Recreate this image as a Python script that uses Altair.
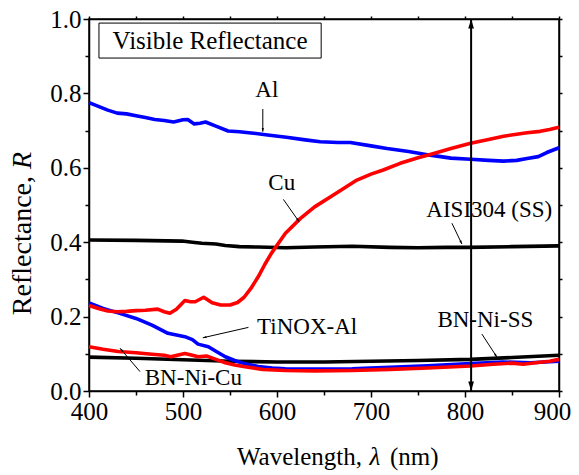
import math
import altair as alt
import pandas as pd

# ---------------- data ----------------
al_nm = [400, 410, 420, 430, 440, 450, 460, 470, 480, 490, 500, 505, 512, 518, 524, 535, 548, 560, 575, 590,
         610, 630, 646, 665, 678, 700, 717, 740, 763, 785, 806, 825, 841, 855, 866, 878, 887, 900]
al_r = [0.775, 0.765, 0.755, 0.747, 0.745, 0.740, 0.735, 0.730, 0.727, 0.723, 0.729, 0.730, 0.718, 0.720,
        0.723, 0.712, 0.699, 0.697, 0.693, 0.688, 0.682, 0.675, 0.670, 0.668, 0.668, 0.659, 0.652, 0.644,
        0.634, 0.626, 0.623, 0.620, 0.618, 0.620, 0.625, 0.630, 0.641, 0.654]

cu_nm = [400, 410, 420, 430, 440, 450, 460, 473, 480, 486, 493, 502, 508, 513, 522, 531, 540, 550, 558, 565,
         572, 580, 587, 594, 600, 609, 625, 640, 660, 685, 700, 713, 731, 750, 763, 785, 806, 825, 841, 855,
         866, 880, 890, 900]
cu_r = [0.230, 0.222, 0.215, 0.213, 0.214, 0.216, 0.217, 0.220, 0.213, 0.209, 0.220, 0.243, 0.240, 0.240,
        0.252, 0.237, 0.231, 0.231, 0.238, 0.252, 0.275, 0.307, 0.340, 0.370, 0.392, 0.424, 0.464, 0.495,
        0.527, 0.567, 0.583, 0.594, 0.612, 0.627, 0.636, 0.652, 0.666, 0.676, 0.685, 0.690, 0.694, 0.698,
        0.703, 0.709]

ss_nm = [400, 450, 499, 510, 520, 535, 545, 560, 580, 609, 640, 680, 720, 750, 780, 803, 850, 900]
ss_r = [0.406, 0.405, 0.403, 0.400, 0.397, 0.395, 0.391, 0.388, 0.387, 0.385, 0.387, 0.389, 0.386, 0.385,
        0.386, 0.386, 0.388, 0.390]

tinox_nm = [400, 415, 431, 450, 467, 484, 502, 510, 516, 527, 535, 545, 555, 566, 580, 595, 609, 640, 680,
            720, 760, 806, 840, 870, 900]
tinox_r = [0.237, 0.222, 0.210, 0.195, 0.177, 0.155, 0.146, 0.138, 0.126, 0.119, 0.107, 0.092, 0.082, 0.073,
           0.066, 0.062, 0.060, 0.059, 0.060, 0.064, 0.068, 0.074, 0.078, 0.076, 0.080]

bncu_nm = [400, 415, 431, 450, 467, 480, 487, 495, 502, 510, 516, 525, 535, 545, 555, 566, 585, 609, 640, 680,
           720, 760, 806, 830, 850, 862, 875, 890, 900]
bncu_r = [0.119, 0.112, 0.106, 0.103, 0.099, 0.096, 0.092, 0.097, 0.101, 0.096, 0.092, 0.094, 0.085, 0.076,
          0.070, 0.065, 0.058, 0.055, 0.054, 0.055, 0.058, 0.062, 0.067, 0.072, 0.075, 0.072, 0.076, 0.080,
          0.085]

bnss_nm = [400, 450, 500, 550, 600, 650, 700, 750, 806, 850, 900]
bnss_r = [0.091, 0.088, 0.084, 0.080, 0.078, 0.078, 0.080, 0.082, 0.085, 0.090, 0.096]

# label texts and their anchor positions (data coordinates)
label_text = ["Al", "Cu", "AISI304 (SS)", "TiNOX-Al", "BN-Ni-SS", "BN-Ni-Cu"]
label_x = [589.2, 605.1, 825.8, 632.1, 821.6, 511.0]
label_y = [0.809, 0.558, 0.487, 0.173, 0.191, 0.034]

# annotation arrows: start -> head
arrow_x1 = [584.9, 606.8, 786.1, 569.6, 818.0, 454.3]
arrow_y1 = [0.758, 0.515, 0.451, 0.171, 0.153, 0.052]
arrow_x2 = [584.9, 623.5, 796.7, 521.0, 834.0, 433.0]
arrow_y2 = [0.697, 0.455, 0.395, 0.143, 0.091, 0.115]

box_title = ["Visible Reflectance"]
box_x = [410.6, 647.0]
box_y = [0.895, 0.989]
box_text_x = [528.8]
box_text_y = [0.941]

marker_nm = [806.5]  # vertical double arrow

x_title_parts = ["Wavelength,", "\u03bb", "(nm)"]
y_title_parts = ["Reflectance,", "R"]

# ---------------- layout ----------------
W, H = 470, 372
X0, X1 = 400, 900
Y0, Y1 = 0.0, 1.0
FONT = "Liberation Serif"

xs = alt.Scale(domain=[X0, X1], nice=False, zero=False)
ys = alt.Scale(domain=[Y0, Y1], nice=False, zero=False)


def ang(x1, y1, x2, y2):
    dx = (x2 - x1) * W / (X1 - X0)
    dy = -(y2 - y1) * H / (Y1 - Y0)
    return math.degrees(math.atan2(dx, -dy)) % 360


ARROW = "M0,0L-0.6,2L0.6,2Z"

x_axis = alt.Axis(
    values=list(range(400, 901, 50)), format="d",
    labelExpr="datum.value % 100 === 0 ? datum.label : ''",
    tickSize={"condition": {"test": "datum.value % 100 === 0", "value": 6}, "value": 4},
    labelOffset={"condition": {"test": "datum.value === 900", "value": -7}, "value": 0},
    title=None, grid=False, labelFont=FONT, labelFontSize=25, labelColor="black",
    domainColor="black", tickColor="black", domainWidth=1.5, tickWidth=1.5,
    labelPadding=2, labelFlush=False, labelOverlap=False,
)
y_axis = alt.Axis(
    values=[round(i * 0.1, 1) for i in range(11)], format=".1f",
    labelExpr="round(datum.value * 10) % 2 === 0 ? datum.label : ''",
    tickSize={"condition": {"test": "round(datum.value * 10) % 2 === 0", "value": 6}, "value": 4},
    title=None, grid=False, labelFont=FONT, labelFontSize=25, labelColor="black",
    domainColor="black", tickColor="black", domainWidth=1.5, tickWidth=1.5,
    labelPadding=2, labelFlush=False, labelOverlap=False,
)

series = [
    ("AISI304", ss_nm, ss_r, "black"),
    ("BN-Ni-SS", bnss_nm, bnss_r, "black"),
    ("TiNOX-Al", tinox_nm, tinox_r, "#0000ff"),
    ("Al", al_nm, al_r, "#0000ff"),
    ("Cu", cu_nm, cu_r, "#ff0000"),
    ("BN-Ni-Cu", bncu_nm, bncu_r, "#ff0000"),
]

layers = []
first = True
for name, nm, r, col in series:
    df = pd.DataFrame({"nm": nm, "R": r})
    layers.append(
        alt.Chart(df).mark_line(color=col, strokeWidth=3.6, strokeJoin="round").encode(
            x=alt.X("nm:Q", scale=xs, axis=x_axis if first else None),
            y=alt.Y("R:Q", scale=ys, axis=y_axis if first else None),
        )
    )
    first = False

# mirror axes (top / right)
mirror_df = pd.DataFrame({"nm": ss_nm, "R": ss_r})
mirror = alt.Chart(mirror_df).mark_line(opacity=0).encode(
    x=alt.X("nm:Q", scale=xs, axis=alt.Axis(orient="top", values=list(range(400, 901, 50)), labels=False,
                                            title=None, grid=False, tickSize=3, domainColor="black",
                                            tickColor="black", domainWidth=1.5, tickWidth=1.5)),
    y=alt.Y("R:Q", scale=ys, axis=alt.Axis(orient="right", values=[round(i * 0.1, 1) for i in range(11)],
                                           labels=False, title=None, grid=False, tickSize=3,
                                           domainColor="black", tickColor="black", domainWidth=1.5,
                                           tickWidth=1.5)),
)

# vertical double arrow
vdf = pd.DataFrame({"x": marker_nm, "y": [Y0], "y2": [Y1]})
vrule = alt.Chart(vdf).mark_rule(color="black", strokeWidth=2).encode(
    x=alt.X("x:Q", scale=xs, axis=None), y=alt.Y("y:Q", scale=ys, axis=None), y2="y2:Q")
vheads_df = pd.DataFrame({"x": marker_nm * 2, "y": [Y1, Y0], "a": [0, 180]})
vheads = alt.Chart(vheads_df).mark_point(shape=ARROW, filled=True, color="black", size=90, opacity=1).encode(
    x=alt.X("x:Q", scale=xs, axis=None), y=alt.Y("y:Q", scale=ys, axis=None), angle=alt.Angle("a:Q", scale=None))

# annotation arrows
adf = pd.DataFrame({"x1": arrow_x1, "y1": arrow_y1, "x2": arrow_x2, "y2": arrow_y2})
adf["a"] = [ang(a, b, c, d) for a, b, c, d in zip(arrow_x1, arrow_y1, arrow_x2, arrow_y2)]
arules = alt.Chart(adf).mark_rule(color="black", strokeWidth=1).encode(
    x=alt.X("x1:Q", scale=xs, axis=None), y=alt.Y("y1:Q", scale=ys, axis=None), x2="x2:Q", y2="y2:Q")
aheads = alt.Chart(adf).mark_point(shape=ARROW, filled=True, color="black", size=14, opacity=1).encode(
    x=alt.X("x2:Q", scale=xs, axis=None), y=alt.Y("y2:Q", scale=ys, axis=None), angle=alt.Angle("a:Q", scale=None))

# labels
ldf = pd.DataFrame({"x": label_x, "y": label_y, "t": label_text})
labels = alt.Chart(ldf).mark_text(font=FONT, fontSize=23, align="center", baseline="middle").encode(
    x=alt.X("x:Q", scale=xs, axis=None), y=alt.Y("y:Q", scale=ys, axis=None), text="t:N")

# boxed title
bdf = pd.DataFrame({"x": [box_x[0]], "x2": [box_x[1]], "y": [box_y[0]], "y2": [box_y[1]]})
box = alt.Chart(bdf).mark_rect(fill="white", stroke="black", strokeWidth=1).encode(
    x=alt.X("x:Q", scale=xs, axis=None), x2="x2:Q", y=alt.Y("y:Q", scale=ys, axis=None), y2="y2:Q")
btdf = pd.DataFrame({"x": box_text_x, "y": box_text_y, "t": box_title})
box_text = alt.Chart(btdf).mark_text(font=FONT, fontSize=25, align="center", baseline="middle").encode(
    x=alt.X("x:Q", scale=xs, axis=None), y=alt.Y("y:Q", scale=ys, axis=None), text="t:N")


# axis titles with italic symbols
def txt(s, x, y, align, italic=False, size=25, angle=0):
    kw = {"fontStyle": "italic"} if italic else {}
    return alt.Chart(pd.DataFrame({"t": [s]})).mark_text(
        font=FONT, fontSize=size, align=align, baseline="alphabetic", angle=angle, **kw
    ).encode(x=alt.value(x), y=alt.value(y), text="t:N")


xt1 = txt(x_title_parts[0], 273, 446, "right")
xt2 = txt(x_title_parts[1], 286, 446, "center", italic=True)
xt3 = txt(x_title_parts[2], 301, 446, "left")
yt1 = txt(y_title_parts[0], -58, 157, "right", size=28, angle=270)
yt2 = txt(y_title_parts[1], -58, 150, "left", italic=True, size=28, angle=270)

chart = alt.layer(
    *layers, mirror, vrule, vheads, arules, aheads, labels, box, box_text, xt1, xt2, xt3, yt1, yt2
).resolve_axis(x="independent", y="independent").properties(
    width=W, height=H,
    autosize=alt.AutoSizeParams(type="none"),
    padding={"left": 81, "top": 11, "right": 12, "bottom": 80},
    background="white",
).configure(font=FONT).configure_view(stroke="black", strokeWidth=1.5).configure_text(color="black")

chart.save("out.html", embed_options={"renderer": "svg", "actions": False})
